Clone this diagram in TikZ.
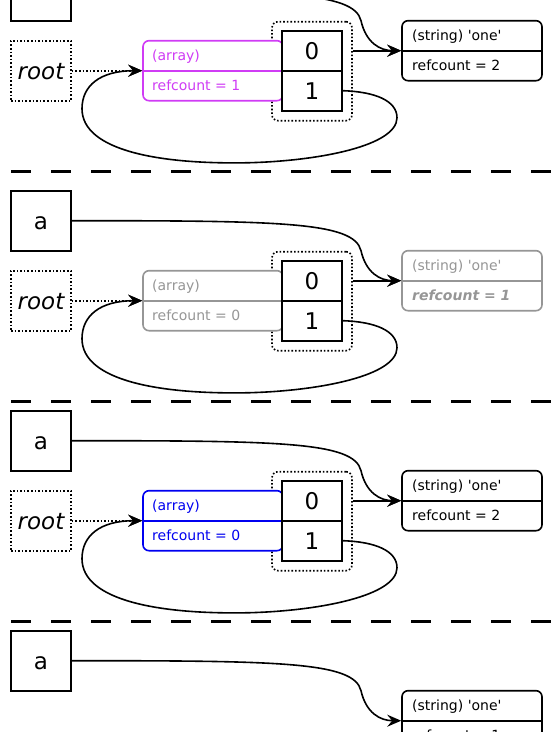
\documentclass[tikz,border=0pt]{standalone}
\usepackage{fontspec}
\setmainfont{DejaVu Sans}
\usetikzlibrary{arrows.meta,calc}
\definecolor{magc}{RGB}{208,60,245}
\definecolor{grayc}{RGB}{150,150,150}
\definecolor{bluec}{RGB}{0,0,240}
\newcommand\bigf{\fontsize{23}{27}\selectfont}
\newcommand\smallf{\fontsize{14}{17}\selectfont}
\newcommand\sq{\textquotesingle}
\tikzset{
  box/.style={draw, line width=1.6pt, minimum width=60pt, minimum height=60pt, inner sep=0pt, font=\bigf, text height=17pt, text depth=0pt},
  rootbox/.style={box, dotted},
  rec/.style={draw, rounded corners=6pt, line width=1.6pt, fill=white, minimum width=140pt, minimum height=60pt, inner sep=0pt},
  cell/.style={draw, fill=white, line width=1.6pt, minimum width=60pt, minimum height=40pt, inner sep=0pt, font=\bigf, text height=17pt, text depth=0pt},
  grp/.style={draw, dotted, rounded corners=6pt, line width=1.6pt, minimum width=80pt, minimum height=99pt, inner sep=0pt},
  lbl/.style={anchor=base west, inner sep=0pt, font=\smallf},
  divl/.style={line width=1.6pt},
  link/.style={line width=1.6pt, -{Stealth[length=14pt,width=12pt,inset=5pt]}},
  sepline/.style={line width=2.7pt, dash pattern=on 20pt off 20pt},
}
\begin{document}
\begin{tikzpicture}[x=1pt,y=-1pt]
\useasboundingbox (0,0) rectangle (552,732);
\clip (0,0) rectangle (552,732);

% separators
\draw[sepline] (11,171.3) -- (552,171.3);
\draw[sepline] (11,401.3) -- (552,401.3);
\draw[sepline] (11,621.7) -- (552,621.7);

% ---------- panel 1 ----------
\begin{scope}[shift={(0,-39.3)}]
\node[grp] (grpA) at (312,110.5) {};
\node[rec, draw=magc] (arrA) at (213,110) {};
\draw[divl, magc] (arrA.west) -- (arrA.east);
\node[lbl, text=magc] (arrAt) at (152,100) {(array)};
\node[lbl, text=magc] (arrAr) at (152,130) {refcount = 1};
\node[cell] (c0A) at (312,90) {0};
\node[cell] (c1A) at (312,130) {1};
\node[rec] (strA) at (472,90) {};
\draw[divl] (strA.west) -- (strA.east);
\node[lbl] (strAt) at (412,80) {(string) \sq one\sq};
\node[lbl] (strAr) at (412,110) {refcount = 2};
\node[box] (aA) at (41,30) {a};
\node[rootbox] (rootA) at (41,110) {\itshape root};
\coordinate (gA) at (grpA.east |- c0A.east);
\coordinate (mA) at (361,60);
\draw[link] (gA) -- (strA.west);
\draw[link] (aA.east) .. controls (280,30) and (354,31) .. (mA) .. controls (366,82) and (380,90) .. (strA.west);
\draw[link, dotted] (rootA.east) -- (arrA.west);
\coordinate (rA) at (397,157);
\coordinate (bA) at (250,202);
\coordinate (lA) at (82,148);
\draw[link] (c1A.east) .. controls (375,131) and (397,140) .. (rA) .. controls (397,185) and (320,200) .. (bA) .. controls (160,204) and (82,190) .. (lA) .. controls (82,125) and (100,110) .. (arrA.west);
\end{scope}

% ---------- panel 2 ----------
\begin{scope}[shift={(0,190.7)}]
\node[grp] (grpB) at (312,110.5) {};
\node[rec, draw=grayc] (arrB) at (213,110) {};
\draw[divl, grayc] (arrB.west) -- (arrB.east);
\node[lbl, text=grayc] (arrBt) at (152,100) {(array)};
\node[lbl, text=grayc] (arrBr) at (152,130) {refcount = 0};
\node[cell] (c0B) at (312,90) {0};
\node[cell] (c1B) at (312,130) {1};
\node[rec, draw=grayc] (strB) at (472,90) {};
\draw[divl, grayc] (strB.west) -- (strB.east);
\node[lbl, text=grayc] (strBt) at (412,80) {(string) \sq one\sq};
\node[lbl, text=grayc, font=\smallf\bfseries\itshape] (strBr) at (412,110) {refcount = 1};
\node[box] (aB) at (41,30) {a};
\node[rootbox] (rootB) at (41,110) {\itshape root};
\coordinate (gB) at (grpB.east |- c0B.east);
\coordinate (mB) at (361,60);
\draw[link] (gB) -- (strB.west);
\draw[link] (aB.east) .. controls (280,30) and (354,31) .. (mB) .. controls (366,82) and (380,90) .. (strB.west);
\draw[link, dotted] (rootB.east) -- (arrB.west);
\coordinate (rB) at (397,157);
\coordinate (bB) at (250,202);
\coordinate (lB) at (82,148);
\draw[link] (c1B.east) .. controls (375,131) and (397,140) .. (rB) .. controls (397,185) and (320,200) .. (bB) .. controls (160,204) and (82,190) .. (lB) .. controls (82,125) and (100,110) .. (arrB.west);
\end{scope}

% ---------- panel 3 ----------
\begin{scope}[shift={(0,410.7)}]
\node[grp] (grpC) at (312,110.5) {};
\node[rec, draw=bluec] (arrC) at (213,110) {};
\draw[divl, bluec] (arrC.west) -- (arrC.east);
\node[lbl, text=bluec] (arrCt) at (152,100) {(array)};
\node[lbl, text=bluec] (arrCr) at (152,130) {refcount = 0};
\node[cell] (c0C) at (312,90) {0};
\node[cell] (c1C) at (312,130) {1};
\node[rec] (strC) at (472,90) {};
\draw[divl] (strC.west) -- (strC.east);
\node[lbl] (strCt) at (412,80) {(string) \sq one\sq};
\node[lbl] (strCr) at (412,110) {refcount = 2};
\node[box] (aC) at (41,30) {a};
\node[rootbox] (rootC) at (41,110) {\itshape root};
\coordinate (gC) at (grpC.east |- c0C.east);
\coordinate (mC) at (361,60);
\draw[link] (gC) -- (strC.west);
\draw[link] (aC.east) .. controls (280,30) and (354,31) .. (mC) .. controls (366,82) and (380,90) .. (strC.west);
\draw[link, dotted] (rootC.east) -- (arrC.west);
\coordinate (rC) at (397,157);
\coordinate (bC) at (250,202);
\coordinate (lC) at (82,148);
\draw[link] (c1C.east) .. controls (375,131) and (397,140) .. (rC) .. controls (397,185) and (320,200) .. (bC) .. controls (160,204) and (82,190) .. (lC) .. controls (82,125) and (100,110) .. (arrC.west);
\end{scope}

% ---------- panel 4 ----------
\begin{scope}[shift={(0,630.7)}]
\node[rec] (strD) at (472,90) {};
\draw[divl] (strD.west) -- (strD.east);
\node[lbl] (strDt) at (412,80) {(string) \sq one\sq};
\node[lbl] (strDr) at (412,110) {refcount = 1};
\node[box] (aD) at (41,30) {a};
\coordinate (mD) at (361,60);
\draw[link] (aD.east) .. controls (280,30) and (354,31) .. (mD) .. controls (366,82) and (380,90) .. (strD.west);
\end{scope}
\end{tikzpicture}
\end{document}
